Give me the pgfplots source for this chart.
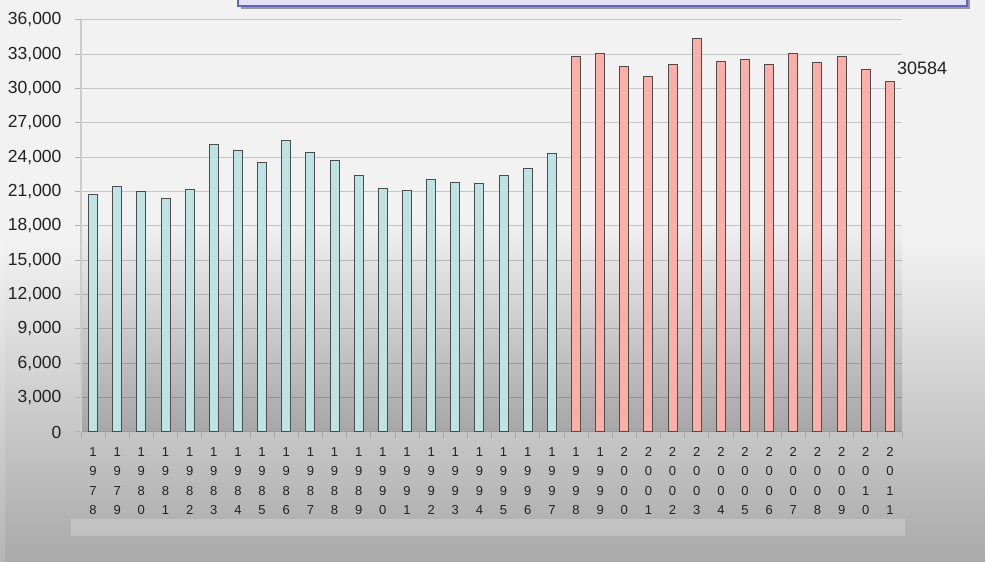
\documentclass[border=0pt]{standalone}
\usepackage{pgfplots}
\pgfplotsset{compat=1.18}
\usepackage{fontspec}
\setmainfont{Liberation Sans}
\definecolor{barcyan}{HTML}{BFE3E4}
\definecolor{barsalmon}{HTML}{FAB0A8}
\definecolor{bgtop}{HTML}{F2F2F2}
\definecolor{bgbot}{HTML}{A9A9A9}
\definecolor{plotbot}{HTML}{A6A6A6}
\definecolor{titlefill}{HTML}{E3E3F8}
\definecolor{titleborder}{HTML}{6464C0}
\definecolor{txt}{HTML}{222222}
\begin{document}
\begin{tikzpicture}
\useasboundingbox (0pt,0pt) rectangle (985pt,562pt);
\begin{scope}[x=1pt,y=1pt]
\clip (0,0) rectangle (985,562);
\fill[bgtop] (0,0) rectangle (985,562);
\shade[top color=bgtop, bottom color=bgbot] (0,0) rectangle (985,322);
\shade[top color=bgtop, bottom color=plotbot] (81,130) rectangle (902,342);
\fill[white, opacity=0.22] (71,26) rectangle (905,43);
\fill[white, opacity=0.15] (0,0) rectangle (5,330);
\fill[black!40] (241,553) rectangle (970,600);
\filldraw[fill=titlefill, draw=titleborder, line width=1.5] (238,556) rectangle (967,600);
\end{scope}
\begin{axis}[
  at={(81pt,130pt)}, anchor=south west, scale only axis,
  width=821pt, height=412pt,
  xmin=-0.5, xmax=33.5, ymin=0, ymax=36000,
  axis x line*=bottom, axis y line*=left,
  x axis line style={draw=black!40, line width=1pt},
  y axis line style={draw=black!20, line width=2pt},
  ytick={0,3000,...,36000}, scaled y ticks=false,
  /pgf/number format/1000 sep={,},
  /pgf/number format/assume math mode=true,
  ymajorgrids, major grid style={draw=black, opacity=0.18, line width=1pt},
  tick align=outside, major tick length=6pt,
  ytick style={draw=black!30, line width=1pt},
  xtick style={draw=black!35, line width=0.8pt},
  yticklabel style={font=\fontsize{17.5}{20}\selectfont, text=txt, xshift=-10pt},
  xtick={-0.5,0.5,...,33.5},
  xticklabels={{1\\9\\7\\8},{1\\9\\7\\9},{1\\9\\8\\0},{1\\9\\8\\1},{1\\9\\8\\2},{1\\9\\8\\3},{1\\9\\8\\4},{1\\9\\8\\5},{1\\9\\8\\6},{1\\9\\8\\7},{1\\9\\8\\8},{1\\9\\8\\9},{1\\9\\9\\0},{1\\9\\9\\1},{1\\9\\9\\2},{1\\9\\9\\3},{1\\9\\9\\4},{1\\9\\9\\5},{1\\9\\9\\6},{1\\9\\9\\7},{1\\9\\9\\8},{1\\9\\9\\9},{2\\0\\0\\0},{2\\0\\0\\1},{2\\0\\0\\2},{2\\0\\0\\3},{2\\0\\0\\4},{2\\0\\0\\5},{2\\0\\0\\6},{2\\0\\0\\7},{2\\0\\0\\8},{2\\0\\0\\9},{2\\0\\1\\0},{2\\0\\1\\1},{}},
  xticklabel style={align=center, font=\fontsize{13}{19.3}\selectfont, text=txt, xshift=12.07pt, yshift=-6pt},
]
\addplot[ybar, bar width=9pt, bar shift=0pt, fill=barcyan, draw=black!70, line width=1pt] coordinates {
(0,20740)(1,21460)(2,21000)(3,20390)(4,21180)(5,25160)(6,24590)(7,23560)(8,25490)(9,24410)
(10,23710)(11,22430)(12,21320)(13,21110)(14,22080)(15,21840)(16,21670)(17,22450)(18,23060)(19,24350)};
\addplot[ybar, bar width=9pt, bar shift=0pt, fill=barsalmon, draw=black!70, line width=1pt] coordinates {
(20,32830)(21,33070)(22,31960)(23,31060)(24,32130)(25,34410)(26,32340)(27,32510)(28,32130)(29,33070)
(30,32250)(31,32830)(32,31670)(33,30584)};
\end{axis}
\node[anchor=west, inner sep=0pt, font=\fontsize{18}{20}\selectfont, text=txt] at (897pt,494pt) {30584};
\end{tikzpicture}
\end{document}
